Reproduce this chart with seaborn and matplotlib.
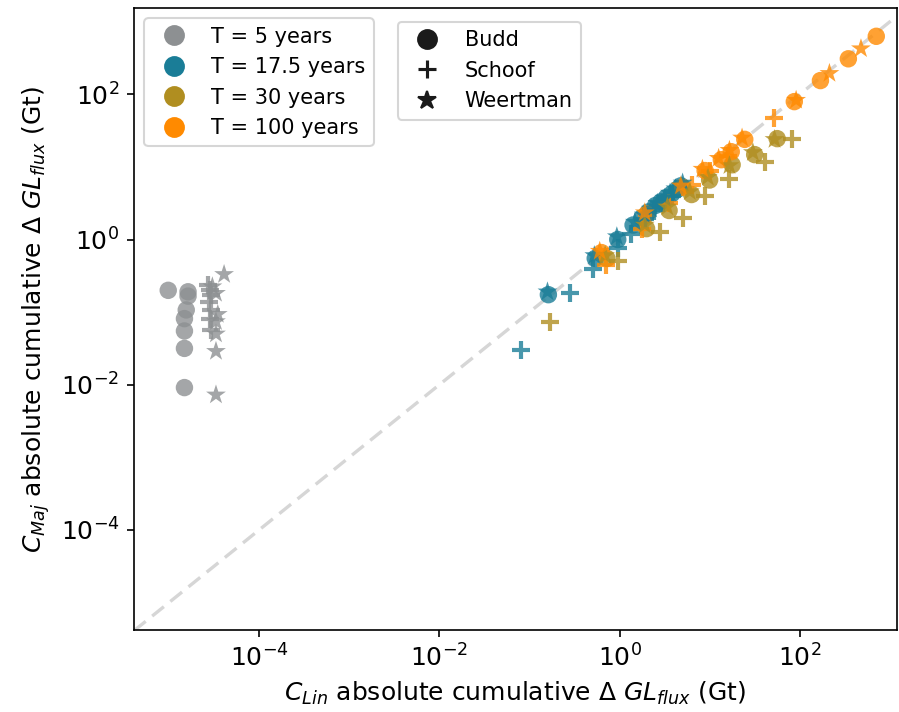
import numpy as np
import pandas as pd
import matplotlib
matplotlib.use("Agg")
import matplotlib.pyplot as plt
from matplotlib.lines import Line2D
from matplotlib.ticker import FixedLocator, NullLocator
import seaborn as sns

# ---------------- data (log10 values) ----------------
periods = ["T = 5 years", "T = 17.5 years", "T = 30 years", "T = 100 years"]
laws = ["Budd", "Schoof", "Weertman"]
colors = ["#8d9092", "#1a7d97", "#b08e20", "#ff8a00"]
tick_values = [1e-4, 1e-2, 1e0, 1e2]

# T = 5 years
t5_budd_x = [-5.01, -4.79, -4.79, -4.81, -4.83, -4.83, -4.83, -4.83]
t5_budd_y = [-0.70, -0.72, -0.78, -0.97, -1.09, -1.26, -1.50, -2.04]
t5_schoof_x = [-4.57, -4.55, -4.53, -4.56, -4.54, -4.55, -4.53]
t5_schoof_y = [-0.62, -0.69, -0.76, -0.86, -0.97, -1.10, -1.25]
t5_weert_x = [-4.39, -4.52, -4.48, -4.46, -4.48, -4.48, -4.48, -4.48]
t5_weert_y = [-0.48, -0.65, -0.74, -1.03, -1.13, -1.30, -1.54, -2.14]

# T = 17.5 years
t17_budd_x = [-0.79, -0.27, -0.02, 0.15, 0.25, 0.32, 0.40, 0.46, 0.52, 0.58, 0.64, 0.68]
t17_budd_y = [-0.76, -0.26, 0.00, 0.20, 0.30, 0.38, 0.47, 0.52, 0.58, 0.63, 0.69, 0.74]
t17_schoof_x = [-1.09, -0.55, -0.29, -0.02, 0.13, 0.28, 0.38, 0.48, 0.58]
t17_schoof_y = [-1.52, -0.74, -0.41, -0.12, 0.08, 0.28, 0.40, 0.50, 0.60]
t17_weert_x = [-0.80, -0.28, -0.03, 0.17, 0.27, 0.35, 0.42, 0.50, 0.56, 0.62, 0.70]
t17_weert_y = [-0.72, -0.22, 0.04, 0.24, 0.34, 0.42, 0.50, 0.57, 0.64, 0.70, 0.78]

# T = 30 years
t30_budd_x = [-0.14, 0.30, 0.55, 0.80, 1.00, 1.25, 1.50, 1.75]
t30_budd_y = [-0.26, 0.15, 0.40, 0.62, 0.82, 1.03, 1.17, 1.39]
t30_schoof_x = [-0.77, -0.02, 0.45, 0.70, 0.95, 1.22, 1.61, 1.91]
t30_schoof_y = [-1.13, -0.30, 0.10, 0.30, 0.60, 0.84, 1.07, 1.38]
t30_weert_x = [-0.16, 0.28, 0.53, 0.78, 0.98, 1.22, 1.48, 1.72]
t30_weert_y = [-0.22, 0.20, 0.45, 0.66, 0.86, 1.02, 1.20, 1.38]

# T = 100 years
t100_budd_x = [-0.20, 0.30, 0.70, 0.95, 1.13, 1.24, 1.39, 1.94, 2.23, 2.54, 2.85]
t100_budd_y = [-0.18, 0.35, 0.72, 0.95, 1.10, 1.21, 1.38, 1.90, 2.19, 2.49, 2.80]
t100_schoof_x = [-0.15, 0.25, 0.55, 0.80, 1.00, 1.20, 1.71]
t100_schoof_y = [-0.35, 0.15, 0.50, 0.75, 0.95, 1.15, 1.67]
t100_weert_x = [-0.22, 0.28, 0.68, 0.92, 1.10, 1.22, 1.36, 1.96, 2.33, 2.68]
t100_weert_y = [-0.16, 0.37, 0.74, 0.97, 1.12, 1.23, 1.40, 1.92, 2.29, 2.63]

xlim_log = (-5.39, 3.08)
ylim_log = (-5.38, 3.19)

groups = [
    (periods[0], "Budd", t5_budd_x, t5_budd_y),
    (periods[0], "Schoof", t5_schoof_x, t5_schoof_y),
    (periods[0], "Weertman", t5_weert_x, t5_weert_y),
    (periods[1], "Budd", t17_budd_x, t17_budd_y),
    (periods[1], "Schoof", t17_schoof_x, t17_schoof_y),
    (periods[1], "Weertman", t17_weert_x, t17_weert_y),
    (periods[2], "Budd", t30_budd_x, t30_budd_y),
    (periods[2], "Schoof", t30_schoof_x, t30_schoof_y),
    (periods[2], "Weertman", t30_weert_x, t30_weert_y),
    (periods[3], "Budd", t100_budd_x, t100_budd_y),
    (periods[3], "Schoof", t100_schoof_x, t100_schoof_y),
    (periods[3], "Weertman", t100_weert_x, t100_weert_y),
]
rows = []
for T, law, xs, ys in groups:
    for a, b in zip(xs, ys):
        rows.append({"T": T, "law": law, "x": 10 ** a, "y": 10 ** b})
df = pd.DataFrame(rows)

palette = dict(zip(periods, colors))
markers = {"Budd": "o", "Schoof": "+", "Weertman": "*"}
sizes = {"Budd": 70, "Schoof": 75, "Weertman": 100}

# ---------------- figure ----------------
fig = plt.figure(figsize=(899 / 150, 712 / 150), dpi=150)
ax = fig.add_axes([134 / 899, 1 - 630 / 712, (897 - 134) / 899, (630 - 8) / 712])

lo, hi = 10 ** xlim_log[0], 10 ** xlim_log[1]
ax.plot([lo, hi], [lo, hi], ls="--", color="#d6d6d6", lw=1.6, dashes=(4.5, 2.5), zorder=0)

for law in laws:
    sub = df[df["law"] == law]
    kw = dict(linewidth=2) if law == "Schoof" else dict(edgecolor="none", linewidth=0)
    sns.scatterplot(data=sub, x="x", y="y", hue="T", palette=palette,
                    hue_order=periods, marker=markers[law], s=sizes[law],
                    alpha=0.8, legend=False, ax=ax, **kw)

ax.set_xscale("log")
ax.set_yscale("log")
ax.set_xlim(10 ** xlim_log[0], 10 ** xlim_log[1])
ax.set_ylim(10 ** ylim_log[0], 10 ** ylim_log[1])
for axis in (ax.xaxis, ax.yaxis):
    axis.set_major_locator(FixedLocator(tick_values))
    axis.set_minor_locator(NullLocator())
ax.tick_params(labelsize=12)
ax.set_xlabel(r"$C_{Lin}$ absolute cumulative $\Delta$ $GL_{flux}$ (Gt)", fontsize=12)
ax.set_ylabel(r"$C_{Maj}$ absolute cumulative $\Delta$ $GL_{flux}$ (Gt)", fontsize=12)

h1 = [Line2D([], [], marker="o", ls="none", color=c, markersize=9) for c in colors]
leg1 = ax.legend(h1, periods, loc="upper left", fontsize=10)
ax.add_artist(leg1)
h2 = [Line2D([], [], marker="o", ls="none", color="#1a1a1a", markersize=9),
      Line2D([], [], marker="+", ls="none", color="#1a1a1a", markersize=9, markeredgewidth=1.5),
      Line2D([], [], marker="*", ls="none", color="#1a1a1a", markersize=9)]
ax.legend(h2, laws, loc="upper left", bbox_to_anchor=((398 - 134) / 763, (630 - 22) / 622),
          borderaxespad=0, fontsize=10)

fig.savefig("out.png", dpi=150)
